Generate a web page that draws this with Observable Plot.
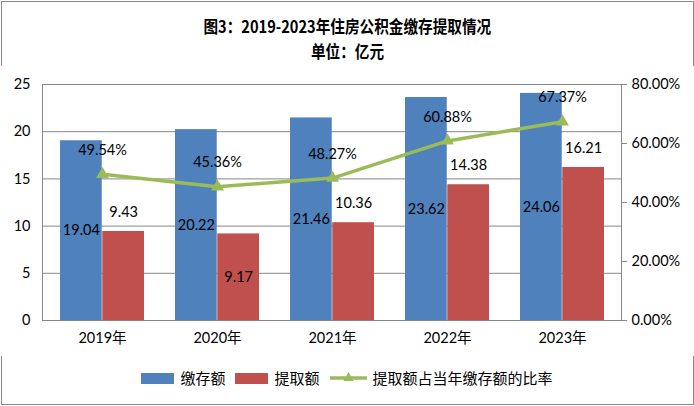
<!DOCTYPE html>
<html>
<head>
<meta charset="utf-8">
<script src="https://cdn.jsdelivr.net/npm/d3@7"></script>
<script src="https://cdn.jsdelivr.net/npm/@observablehq/plot@0.6"></script>
<style>
  html, body { margin: 0; padding: 0; background: #fff; }
  body { position: relative; width: 694px; height: 406px; overflow: hidden; }
  #frame { position: absolute; left: 1px; top: 1px; width: 691px; height: 402px; border: 1px solid #8a8a8a; }
  #title { position: absolute; left: 0; top: 13px; width: 694px; text-align: center;
           font-family: "Noto Sans CJK SC", sans-serif; font-weight: bold; font-size: 17px; line-height: 25px; color: #000; }
  #title span { display: inline-block; transform: scaleX(0.86); white-space: nowrap; }
  #chart { position: absolute; left: 0; top: 66px; }
  #legend { position: absolute; left: 0; top: 368px; width: 694px; height: 20px; display: flex; justify-content: center; align-items: center;
            font-family: "Noto Sans CJK SC", sans-serif; font-size: 15px; color: #000; }
  #legend .sw { display: inline-block; width: 33px; height: 11px; margin-right: 6px; }
  #legend .lab { margin-right: 10px; line-height: 20px; }
</style>
</head>
<body>
<div id="frame"></div>
<div id="title"><span>图3：2019-2023年住房公积金缴存提取情况</span><br><span>单位：亿元</span></div>
<div id="chart"></div>
<div id="legend"></div>
<script>
// ---- data ----
const years = ["2019年", "2020年", "2021年", "2022年", "2023年"];
const deposit = [19.04, 20.22, 21.46, 23.62, 24.06];      // 缴存额
const withdrawal = [9.43, 9.17, 10.36, 14.38, 16.21];     // 提取额
const ratio = [49.54, 45.36, 48.27, 60.88, 67.37];        // 提取额占当年缴存额的比率 (%)
const leftTicks = [0, 5, 10, 15, 20, 25];
const rightTicks = [0, 20, 40, 60, 80];                    // percent
const seriesNames = ["缴存额", "提取额", "提取额占当年缴存额的比率"];

// ---- styles / layout ----
const BLUE = "#4F81BD", RED = "#C0504D", GREEN = "#9BBB59", GRID = "#868686";
const W = 694, H = 290, ML = 42, MR = 73, MT = 18, MB = 36;
const padIn = 0.27;
const step = (W - ML - MR) / years.length;
const bw = step * (1 - padIn);
const half = bw / 2;
const LEFT_MAX = 25, RIGHT_MAX = 80;
const toLeft = p => p * LEFT_MAX / RIGHT_MAX;
const insideRed = new Set(["2020年"]);

const table = years.map((y, i) => ({year: y, dep: deposit[i], wd: withdrawal[i], ratio: ratio[i]}));

const chart = Plot.plot({
  width: W, height: H,
  marginLeft: ML, marginRight: MR, marginTop: MT, marginBottom: MB,
  style: {fontFamily: "Lato, 'Noto Sans CJK SC', sans-serif", fontSize: "14.5px", color: "#000", background: "#fff"},
  x: {type: "band", domain: years, paddingInner: padIn, paddingOuter: padIn / 2, label: null},
  y: {domain: [0, LEFT_MAX], label: null},
  marks: [
    Plot.gridY(leftTicks.slice(1), {stroke: GRID, strokeOpacity: 1}),
    Plot.frame({stroke: GRID}),
    Plot.barY(table, {x: "year", y: "dep", fill: BLUE, insetRight: half}),
    Plot.barY(table, {x: "year", y: "wd", fill: RED, insetLeft: half}),
    Plot.axisY(leftTicks, {anchor: "left", tickSize: 0, tickPadding: 12, label: null}),
    Plot.axisY(rightTicks.map(toLeft), {anchor: "right", tickSize: 5, tickPadding: 5, stroke: GRID, fill: "#000",
      tickFormat: d => (d * RIGHT_MAX / LEFT_MAX).toFixed(2) + "%", label: null}),
    Plot.axisX({tickSize: 0, tickPadding: 12, label: null}),
    Plot.line(table, {x: "year", y: d => toLeft(d.ratio), stroke: GREEN, strokeWidth: 3.5}),
    Plot.dot(table, {x: "year", y: d => toLeft(d.ratio), symbol: "triangle", r: 3.8, fill: GREEN, stroke: GREEN}),
    Plot.text(table, {x: "year", y: d => d.dep / 2, text: d => d.dep.toFixed(2), dx: -half / 2}),
    Plot.text(table.filter(d => !insideRed.has(d.year)), {x: "year", y: "wd", text: d => d.wd.toFixed(2), dx: half / 2, dy: -19}),
    Plot.text(table.filter(d => insideRed.has(d.year)), {x: "year", y: d => d.wd / 2, text: d => d.wd.toFixed(2), dx: half / 2}),
    Plot.text(table, {x: "year", y: d => toLeft(d.ratio), text: d => d.ratio.toFixed(2) + "%", dy: -24})
  ]
});
document.getElementById("chart").appendChild(chart);

// ---- legend ----
const legend = document.getElementById("legend");
function addSwatch(color, name) {
  const s = document.createElement("span"); s.className = "sw"; s.style.background = color; legend.appendChild(s);
  const t = document.createElement("span"); t.className = "lab"; t.textContent = name; legend.appendChild(t);
}
addSwatch(BLUE, seriesNames[0]);
addSwatch(RED, seriesNames[1]);
const ls = d3.create("svg").attr("width", 37).attr("height", 14).style("margin-right", "6px");
ls.append("line").attr("x1", 0).attr("x2", 37).attr("y1", 7).attr("y2", 7).attr("stroke", GREEN).attr("stroke-width", 3.5);
ls.append("path").attr("d", d3.symbol(d3.symbolTriangle, Math.PI * 3.8 * 3.8)()).attr("transform", "translate(18.5,7)").attr("fill", GREEN);
legend.appendChild(ls.node());
const t3 = document.createElement("span"); t3.className = "lab"; t3.style.marginRight = "0"; t3.textContent = seriesNames[2]; legend.appendChild(t3);
</script>
</body>
</html>
